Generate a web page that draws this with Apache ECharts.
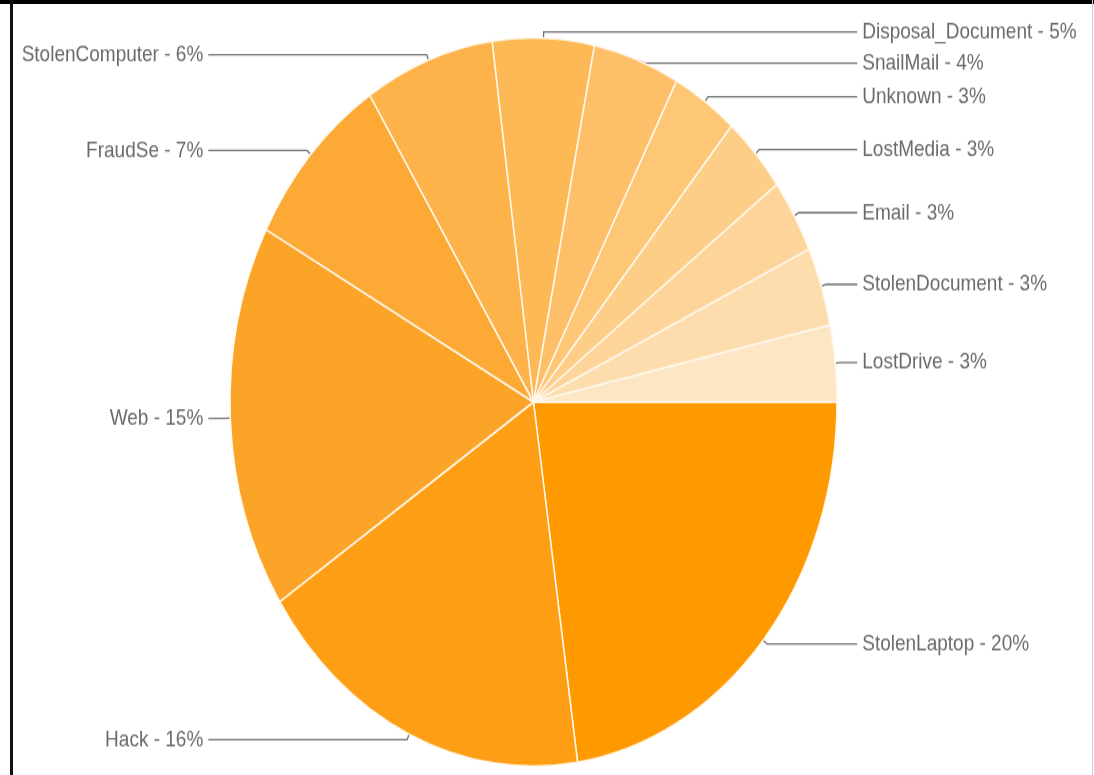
<!DOCTYPE html>
<html>
<head>
<meta charset="utf-8">
<title>Breach types</title>
<script src="https://cdn.jsdelivr.net/npm/echarts@6/dist/echarts.min.js"></script>
<style>
	html, body { margin: 0; padding: 0; background: #fff; }
	body { width: 1094px; height: 775px; position: relative; overflow: hidden; }
	/* the source picture is stretched vertically, so the chart is drawn flat and scaled */
	#chart { position: absolute; left: 0; top: 0; width: 1094px; height: 646px; transform: scaleY(1.2); transform-origin: 0 0; }
	.frame-top { position: absolute; left: 0; top: 0; width: 1094px; height: 4px; background: #000; }
	.frame-left { position: absolute; left: 10px; top: 0; width: 3px; height: 775px; background: #111; }
	.frame-right { position: absolute; left: 1092px; top: 0; width: 1px; height: 775px; background: #d0d0d0; }
</style>
</head>
<body>
<div id="chart"></div>
<div class="frame-top"></div>
<div class="frame-left"></div>
<div class="frame-right"></div>
<script>
// slices in drawing order, clockwise from 3 o'clock
var categories = ['StolenLaptop', 'Hack', 'Web', 'FraudSe', 'StolenComputer', 'Disposal_Document',
	'SnailMail', 'Unknown', 'LostMedia', 'Email', 'StolenDocument', 'LostDrive'];
// slice sizes (per mille)
var sliceValues = [227, 181, 171, 81, 69, 54, 46, 35, 35, 33, 35, 34];
// percentages as printed in the labels
var labelPct = [20, 16, 15, 7, 6, 5, 4, 3, 3, 3, 3, 3];
var sliceColors = ['#ff9900', '#fd9e15', '#fca428', '#fca935', '#fdb24a', '#fdb955',
	'#fdc069', '#fdc776', '#fdce88', '#fdd59b', '#fdddae', '#fde6c4'];

var myChart = echarts.init(document.getElementById('chart'));

var pieData = [];
categories.forEach(function(name, i){
	pieData.push({
		name: name,
		value: sliceValues[i],
		itemStyle: { color: sliceColors[i] }
	});
});

var option = {
	animation: false,
	backgroundColor: 'transparent',
	series: [{
		type: 'pie',
		center: [533.5, 335],
		radius: [0, 303.5],
		startAngle: 0,
		clockwise: true,
		avoidLabelOverlap: true,
		itemStyle: { borderColor: '#fff8ec', borderWidth: 1.5 },
		label: {
			show: true,
			position: 'outer',
			alignTo: 'labelLine',
			distanceToLabelLine: 5,
			bleedMargin: 4,
			color: '#6a6a6a',
			fontFamily: '"Liberation Sans", Arial, sans-serif',
			fontSize: 19,
			lineHeight: 24,
			formatter: function(p){
				return categories[p.dataIndex] + ' - ' + labelPct[p.dataIndex] + '%';
			}
		},
		labelLine: {
			show: true,
			length: 5,
			length2: 17,
			lineStyle: { color: '#6f6f6f', width: 1.3 }
		},
		emphasis: { disabled: true },
		data: pieData
	}]
};
myChart.setOption(option);
</script>
</body>
</html>
